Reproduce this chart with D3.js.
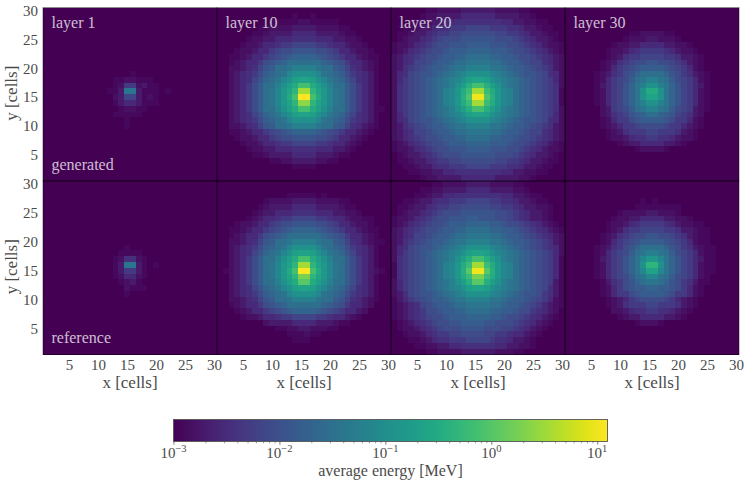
<!DOCTYPE html>
<html><head><meta charset="utf-8">
<script src="https://cdn.jsdelivr.net/npm/d3@7"></script>
<style>
html,body{margin:0;padding:0;background:#fff}
svg{display:block}
text{font-family:"Liberation Serif",serif;fill:#4a4a4a}
</style></head><body>
<div id="chart"></div>
<script>
// Cell readings, one string per row from y=30 down to y=1, one base-36 digit per cell (x=1..30).
// Each digit indexes digitPositions, its position on the colour bar (0 bottom, 1 top).
const digitPositions = [0,.02,.04,.07,.11,.14,.17,.2,.23,.26,.29,.32,.36,.39,.43,.46,.5,.53,.56,.58,.61,.63,.65,.68,.7,.72,.74,.77,.8,.83,.86,.89,.92,.95,.98,1];
const Z = "000000000000000000000000000000";
const generatedLayer1 = [Z,Z,Z,Z,Z,Z,Z,Z,Z,Z,Z,
"000000000000000100000000000000",
"000000000000112211100000000000",
"000000000000126623110000000000",
"00000000000113dd31110100000000",
"000000000000237731210000000000",
"000000000000134431110000000000",
"000000000000012211000000000000",
"000000000000111110000000000000",
"000000000000001000000000000000",
"000000000000001000000000000000",Z,Z,Z,Z,Z,Z,Z,Z,Z];
const referenceLayer1 = [Z,Z,Z,Z,Z,Z,Z,Z,Z,Z,Z,
"000000000000001000000000000000",
"000000000000011110000000000000",
"000000000000125521000000000000",
"00000000000013dd31010000000000",
"000000000000136631000000000000",
"000000000000124421000000000000",
"000000000000012310000000000000",
"000000000000002111000000000000",
"000000000000001000000000000000",Z,Z,Z,Z,Z,Z,Z,Z,Z,Z];
const generatedLayer10 = [Z,
"000000000000010010000000000000",
"000000000111112211111000000000",
"000000011222233332222110000000",
"000000112333344443333211000000",
"000001223344455554443322100000",
"000012234456677776654432210000",
"000122344678899998876443221000",
"001123446789abbbba987644321100",
"0012344689abccccccba9864432100",
"002234579accdeeeedcca975432100",
"00234568abcdfggggfdcba86543100",
"00234579bcdfgijjigfdcb97543100",
"0023468accegikookigecca8643100",
"0023468acdfhjmuumjhfdca8643100",
"0023468acdfhkozzokhfdca8643100",
"0023468acdfhjmttmjhfdca8643100",
"0023468accegikookigecca8643110",
"00234579bcdfgijjigfdcb97543100",
"00234568abcdfggggfdcba86543100",
"002234579accdeeeedcca975432100",
"001123446789abbbba987644321000",
"000122344678899998876443210000",
"000012234456677776654432100000",
"000001223344455554443321000000",
"000000112333344443332110000000",
"000000000112233332211000000000",
"000000000000011110000000000000",Z,Z];
const referenceLayer10 = [Z,Z,
"000000000000111110100000000000",
"000000001222233332222110000000",
"000000012333344443333211000000",
"000000123344455554443322100000",
"000001234456677776654432211000",
"000122344678899998876443221000",
"001123446789abbbba987644321100",
"0012344689abccccccba9864432100",
"002234579accdeeeedcca975432110",
"00234568abcdfggggfdcba86543100",
"00234579bcdfgijjigfdcb97543100",
"0023468accegikookigecca8643100",
"0023468acdfhjmuumjhfdca8643100",
"0123468acdfhkozzokhfdca8643210",
"0023468acdfhjmssmjhfdca8643100",
"0023468accegikqqkigecca8643100",
"00234579bcdfgijjigfdcb97543100",
"00234568abcdfggggfdcba86543100",
"002234579accdeeeedcca975432100",
"0012344689abccccccba9864432000",
"000123446789abbbba987644320000",
"000012234456677776654432100000",
"000000002333344443332110000000",
"000000000011223322211000000000",
"000000000000111211000000000000",
"000000000000011100000000000000",Z,Z];
const generatedLayer20 = [
"000000112222333333222211000000",
"000001223333444444333322100000",
"000112233445555555544332211000",
"001123345566677776665543321100",
"011233456677888888776654332110",
"012334567888999999888765433210",
"1223456788999aaaa9998876543221",
"1234567889aaabbbbaaa9887654321",
"234567889aabbccccbbaa988765432",
"23457789aabccddddccbaa98775432",
"2356789aabcddeeeeddcbaa9876532",
"2457899abcdefggggfedcba9987542",
"246789abcdefgijjigfedcba987642",
"256789abcdegilooligedcba987652",
"256789abcefhknuunkhfecba987651",
"256789abcefhlpyyplhfecba987651",
"256789abcefhknuunkhfecba987651",
"256789abcdegilooligedcba987652",
"246789abcdefgijjigfedcba987642",
"2457899abcdefggggfedcba9987542",
"2356789aabcddeeeeddcbaa9876532",
"23457789aabccddddccbaa98775432",
"234567889aabbccccbbaa988765432",
"1234567889aaabbbbaaa9887654321",
"1223456788999aaaa9998876543221",
"012334567888999999888765433210",
"011233456677888888776654332110",
"001123345566677776665543321100",
"000112233445555555544332211000",
"000001223333444444333322100000"];
const referenceLayer20 = [
"000000011222233332222110000000",
"000001122333344443333221000000",
"000011233445555555544332110000",
"001123345566677776655433211000",
"011233456677888887766543322100",
"012334567888999999887654332100",
"1223456788999aa999887654332100",
"1234567889aaabbbbaa98876543210",
"234567889aabbccccbbaa987654321",
"23457789aabccddddccbaa98765432",
"2356789aabcddeeeeddcbaa9876532",
"2457899abcdefggggfedcba9876542",
"246789abcdefgijjigfedcba987642",
"256789abcdegilooligedcba987641",
"156789abcefhknuunkhfecba987641",
"156789abcefhlqyyqlhfecba987641",
"156789abcefhknssnkhfecba987641",
"246789abcdegilqqligedcba987631",
"246789abcdefgijjigfedcba987531",
"2357899abcdefggggfedcba9986531",
"1346789aabcddeeeeddcbaa9876421",
"12345789aabccddddccbaa98764321",
"123456889aabbccccbbaa988654320",
"1234567889aaabbbbaa98876543210",
"012345678899aaaa99888765432100",
"012234567888999988877654321000",
"001223456677888877665443210000",
"000112345566677776554332100000",
"000011223344555555443322100000",
"000000112222333333222110000000"];
const generatedLayer30 = [Z,Z,Z,Z,
"000000000001122221100000000000",
"000000000012223322210000000000",
"000000001223344443322100000000",
"000000012234566665432210000000",
"000000012356677776653321000000",
"000000123567889988765321000000",
"0000001246789aaaa9876421000000",
"000001235689bccccb986532100000",
"00000124678acdeedca87642100000",
"00000134679bdeggedb97643100000",
"00000124679bdgkkgdb97642100000",
"00000124679bdgjjgdb97642100000",
"00000124679bdeggedb97642100000",
"00000023678acdeedca87632100000",
"000000235679abccba976532000000",
"0000001246689aaaa9866421000000",
"000000123466788887664321000000",
"000000012356667766653210000000",
"000000012234556655432210000000",
"000000000123344443321000000000",
"000000000000122221000000000000",Z,Z,Z,Z,Z];
const referenceLayer30 = [Z,Z,Z,
"000000000000010100000000000000",
"000000000000111111110000000000",
"000000000122223322210000000000",
"000000001223344443322100000000",
"000000012234566665432211000000",
"000000012356677776653321100000",
"000000123567889988765321100000",
"0000001246789aaaa9876421100000",
"000001235689bccccb986532110000",
"00000124678acdeedca87642110000",
"00000134679bdfhhfdb97643110000",
"00000124679bdgmmgdb97642110000",
"00000124679bdfjjfdb97642110000",
"00000124678acdffdca87642100000",
"000000135689bcddcb986531100000",
"000000124689aabbaa986421000000",
"0000001246689aaaa9866421000000",
"000000012346788887643210000000",
"000000012356667766653210000000",
"000000002234556655432100000000",
"000000000123344443321000000000",
"000000000000122210000000000000",Z,Z,Z,Z,Z];

const layerNames = ["layer 1","layer 10","layer 20","layer 30"];
const rowNames = ["generated","reference"];
const grids = [
  [generatedLayer1,generatedLayer10,generatedLayer20,generatedLayer30],
  [referenceLayer1,referenceLayer10,referenceLayer20,referenceLayer30]
];
const xTicks = [5,10,15,20,25,30];
const yTicks = [5,10,15,20,25,30];
const energyMin = 1e-3, energyMax = 12.5;
const majorTicks = [1e-3,1e-2,1e-1,1e0,1e1];
const majorExponents = ["\u22123","\u22122","\u22121","0","1"];
const minorTicks = [];
[1e-3,1e-2,1e-1,1,10].forEach(d=>[2,3,4,5,6,7,8,9].forEach(m=>{if(d*m<=energyMax)minorTicks.push(d*m);}));

const W=748,H=484;
const panelX=[43,217,391,565], panelW=174;
const panelY=[7.5,181], panelH=173.5;
const svg=d3.select("#chart").append("svg").attr("width",W).attr("height",H);
const color=d3.scaleSequentialLog(d3.interpolateViridis).domain([energyMin,energyMax]);
const digitToEnergy=c=>energyMin*Math.pow(energyMax/energyMin,digitPositions[parseInt(c,36)]);

grids.forEach((rowGrids,ri)=>{
  rowGrids.forEach((grid,ci)=>{
    const x=d3.scaleLinear().domain([0.5,30.5]).range([panelX[ci],panelX[ci]+panelW]);
    const y=d3.scaleLinear().domain([0.5,30.5]).range([panelY[ri]+panelH,panelY[ri]]);
    const cells=[];
    grid.forEach((row,r)=>{row.slice(0,30).split("").forEach((c,col)=>{cells.push({x:col+1,y:30-r,e:digitToEnergy(c)});});});
    const g=svg.append("g").attr("shape-rendering","crispEdges");
    g.append("rect").attr("x",x(0.5)).attr("y",y(30.5)).attr("width",panelW).attr("height",panelH).attr("fill",color(energyMin));
    g.selectAll("rect.c").data(cells).join("rect").attr("class","c")
      .attr("x",d=>x(d.x-0.5)).attr("y",d=>y(d.y+0.5))
      .attr("width",d=>x(d.x+0.5)-x(d.x-0.5)).attr("height",d=>y(d.y-0.5)-y(d.y+0.5))
      .attr("fill",d=>color(d.e));
    if(ri===1){
      const ax=svg.append("g").attr("transform",`translate(0,${panelY[ri]+panelH})`)
        .call(d3.axisBottom(x).tickValues(xTicks).tickSize(0).tickPadding(5));
      ax.select(".domain").remove();
      ax.selectAll("text").attr("font-size",15).style("font-family",'"Liberation Serif",serif').attr("fill","#4a4a4a");
      svg.append("text").attr("x",x(15.5)).attr("y",388).attr("text-anchor","middle").attr("font-size",17).text("x [cells]");
    }
    if(ci===0){
      const ay=svg.append("g").attr("transform",`translate(${panelX[ci]},0)`)
        .call(d3.axisLeft(y).tickValues(yTicks).tickSize(0).tickPadding(5));
      ay.select(".domain").remove();
      ay.selectAll("text").attr("font-size",15).style("font-family",'"Liberation Serif",serif').attr("fill","#4a4a4a");
      svg.append("text").attr("transform",`translate(17,${panelY[ri]+panelH/2-1}) rotate(-90)`)
        .attr("text-anchor","middle").attr("font-size",17).text("y [cells]");
    }
    if(ri===0){
      svg.append("text").attr("x",panelX[ci]+8.5).attr("y",panelY[ri]+20).attr("font-size",16)
        .style("fill","#fff").style("fill-opacity",0.75).text(layerNames[ci]);
    }
    if(ci===0){
      svg.append("text").attr("x",panelX[ci]+8.5).attr("y",panelY[ri]+panelH-11.5).attr("font-size",16)
        .style("fill","#fff").style("fill-opacity",0.75).text(rowNames[ri]);
    }
  });
});
// frames
panelY.forEach(py=>panelX.forEach(px=>{
  svg.append("rect").attr("x",px).attr("y",py).attr("width",panelW).attr("height",panelH)
    .attr("fill","none").attr("stroke","#000").attr("stroke-opacity",0.45).attr("stroke-width",1);
}));

// colour bar
const cbX=d3.scaleLog().domain([energyMin,energyMax]).range([173.5,607.5]);
const cbY=419.5,cbH=22;
const defs=svg.append("defs");
const grad=defs.append("linearGradient").attr("id","cb").attr("x1",0).attr("x2",1).attr("y1",0).attr("y2",0);
d3.range(0,21).forEach(i=>grad.append("stop").attr("offset",i/20).attr("stop-color",d3.interpolateViridis(i/20)));
svg.append("rect").attr("x",cbX(energyMin)).attr("y",cbY).attr("width",cbX(energyMax)-cbX(energyMin)).attr("height",cbH)
  .attr("fill","url(#cb)").attr("stroke","#555").attr("stroke-width",0.9);
const cbMinor=svg.append("g").attr("transform",`translate(0,${cbY+cbH})`)
  .call(d3.axisBottom(cbX).tickValues(minorTicks).tickSize(1.8).tickFormat(""));
cbMinor.select(".domain").remove();
cbMinor.selectAll("line").attr("stroke","#555").attr("stroke-width",0.6);
const cbMajor=svg.append("g").attr("transform",`translate(0,${cbY+cbH})`)
  .call(d3.axisBottom(cbX).tickValues(majorTicks).tickSize(3.2).tickFormat(""));
cbMajor.select(".domain").remove();
cbMajor.selectAll("line").attr("stroke","#555").attr("stroke-width",0.8);
majorTicks.forEach((v,i)=>{
  const t=svg.append("text").attr("x",cbX(v)).attr("y",458).attr("text-anchor","middle").attr("font-size",15);
  t.append("tspan").text("10");
  t.append("tspan").attr("dy",-6).attr("font-size",10.5).text(majorExponents[i]);
});
svg.append("text").attr("x",390.5).attr("y",476).attr("text-anchor","middle").attr("font-size",16).text("average energy [MeV]");
</script>
</body></html>
